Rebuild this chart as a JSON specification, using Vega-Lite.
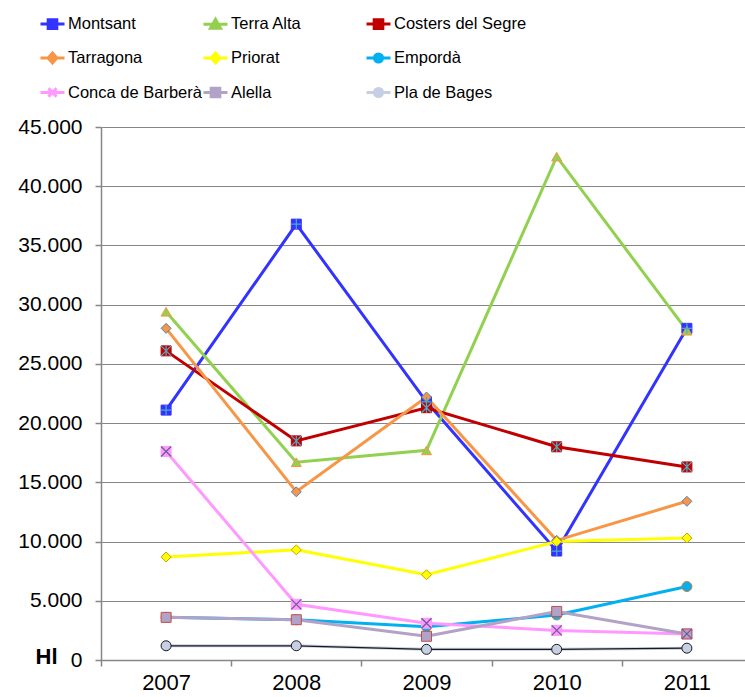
{
  "$schema": "https://vega.github.io/schema/vega-lite/v6.json",
  "width": 651,
  "height": 533,
  "autosize": {"type": "none"},
  "padding": {"left": 101, "top": 127, "right": 0, "bottom": 37},
  "background": "white",
  "config": {"view": {"stroke": null}, "font": "Liberation Sans"},
  "data": {"values": [
    {"s": "Montsant", "year": "2007", "v": 21100},
    {"s": "Montsant", "year": "2008", "v": 36800},
    {"s": "Montsant", "year": "2009", "v": 21800},
    {"s": "Montsant", "year": "2010", "v": 9200},
    {"s": "Montsant", "year": "2011", "v": 28000},
    {"s": "Terra Alta", "year": "2007", "v": 29400},
    {"s": "Terra Alta", "year": "2008", "v": 16700},
    {"s": "Terra Alta", "year": "2009", "v": 17700},
    {"s": "Terra Alta", "year": "2010", "v": 42500},
    {"s": "Terra Alta", "year": "2011", "v": 27800},
    {"s": "Costers del Segre", "year": "2007", "v": 26100},
    {"s": "Costers del Segre", "year": "2008", "v": 18500},
    {"s": "Costers del Segre", "year": "2009", "v": 21300},
    {"s": "Costers del Segre", "year": "2010", "v": 18000},
    {"s": "Costers del Segre", "year": "2011", "v": 16300},
    {"s": "Tarragona", "year": "2007", "v": 28000},
    {"s": "Tarragona", "year": "2008", "v": 14200},
    {"s": "Tarragona", "year": "2009", "v": 22200},
    {"s": "Tarragona", "year": "2010", "v": 10100},
    {"s": "Tarragona", "year": "2011", "v": 13400},
    {"s": "Priorat", "year": "2007", "v": 8700},
    {"s": "Priorat", "year": "2008", "v": 9300},
    {"s": "Priorat", "year": "2009", "v": 7200},
    {"s": "Priorat", "year": "2010", "v": 10000},
    {"s": "Priorat", "year": "2011", "v": 10300},
    {"s": "Empordà", "year": "2007", "v": 3600},
    {"s": "Empordà", "year": "2008", "v": 3400},
    {"s": "Empordà", "year": "2009", "v": 2800},
    {"s": "Empordà", "year": "2010", "v": 3800},
    {"s": "Empordà", "year": "2011", "v": 6200},
    {"s": "Conca de Barberà", "year": "2007", "v": 17600},
    {"s": "Conca de Barberà", "year": "2008", "v": 4700},
    {"s": "Conca de Barberà", "year": "2009", "v": 3100},
    {"s": "Conca de Barberà", "year": "2010", "v": 2500},
    {"s": "Conca de Barberà", "year": "2011", "v": 2200},
    {"s": "Alella", "year": "2007", "v": 3600},
    {"s": "Alella", "year": "2008", "v": 3400},
    {"s": "Alella", "year": "2009", "v": 2000},
    {"s": "Alella", "year": "2010", "v": 4100},
    {"s": "Alella", "year": "2011", "v": 2200},
    {"s": "Pla de Bages", "year": "2007", "v": 1200},
    {"s": "Pla de Bages", "year": "2008", "v": 1200},
    {"s": "Pla de Bages", "year": "2009", "v": 900},
    {"s": "Pla de Bages", "year": "2010", "v": 900},
    {"s": "Pla de Bages", "year": "2011", "v": 1000}
  ]},
  "encoding": {
    "x": {"field": "year", "type": "nominal",
      "scale": {"type": "band", "paddingInner": 0, "paddingOuter": 0},
      "axis": {"title": null, "labelAngle": 0, "tickBand": "extent", "tickSize": 6, "tickColor": "#868686", "tickWidth": 1.5,
        "domainColor": "#868686", "domainWidth": 1.5, "labelFontSize": 22, "labelPadding": 6, "labelColor": "black", "grid": false}},
    "y": {"field": "v", "type": "quantitative",
      "scale": {"domain": [0, 45000], "nice": false},
      "axis": {"values": [0, 5000, 10000, 15000, 20000, 25000, 30000, 35000, 40000, 45000],
        "labelExpr": "replace(format(datum.value, ','), ',', '.')",
        "labelFontSize": 21, "labelPadding": 13, "labelColor": "black", "tickSize": 6, "tickColor": "#868686", "tickWidth": 1.5,
        "grid": true, "gridColor": "#868686", "gridWidth": 1.2, "domainColor": "#868686", "domainWidth": 1.5,
        "title": "Hl", "titleFontSize": 22, "titleFontWeight": "bold", "titleColor": "black", "titleAngle": 0,
        "titleX": -44, "titleY": 536, "titleAlign": "right", "titleBaseline": "alphabetic"}}
  },
  "layer": [
    {
      "mark": {"type": "line", "strokeWidth": 3},
      "encoding": {
        "color": {"field": "s", "type": "nominal", "legend": null,
          "scale": {"domain": ["Montsant", "Terra Alta", "Costers del Segre", "Tarragona", "Priorat", "Empordà", "Conca de Barberà", "Alella", "Pla de Bages"],
            "range": ["#3333ff", "#92d050", "#c00000", "#f79646", "#ffff00", "#00b0f0", "#ff99ff", "#b3a2c7", "#c6cfe3"]}}
      }
    },
    {
      "transform": [{"filter": "datum.s === 'Pla de Bages'"}],
      "mark": {"type": "line", "strokeWidth": 1.3, "color": "#1a1a1a"},
      "encoding": {}
    },
    {
      "mark": {"type": "point", "filled": true, "size": 100, "strokeWidth": 1, "opacity": 1},
      "encoding": {
        "shape": {"field": "s", "type": "nominal", "legend": null,
          "scale": {"domain": ["Montsant", "Terra Alta", "Costers del Segre", "Tarragona", "Priorat", "Empordà", "Conca de Barberà", "Alella", "Pla de Bages"],
            "range": ["square", "triangle-up", "square", "diamond", "diamond", "circle", "square", "square", "circle"]}},
        "fill": {"field": "s", "type": "nominal", "legend": null,
          "scale": {"domain": ["Montsant", "Terra Alta", "Costers del Segre", "Tarragona", "Priorat", "Empordà", "Conca de Barberà", "Alella", "Pla de Bages"],
            "range": ["#3333ff", "#92d050", "#c00000", "#f79646", "#ffff00", "#00b0f0", "#ff99ff", "#b3a2c7", "#c6cfe3"]}},
        "stroke": {"field": "s", "type": "nominal", "legend": null,
          "scale": {"domain": ["Montsant", "Terra Alta", "Costers del Segre", "Tarragona", "Priorat", "Empordà", "Conca de Barberà", "Alella", "Pla de Bages"],
            "range": ["#3333ff", "#f79646", "#c00000", "#4f81bd", "#c8a000", "#d07a30", "#ff99ff", "#c0504d", "#1a1a1a"]}}
      }
    },
    {
      "transform": [{"filter": "datum.s === 'Montsant' || datum.s === 'Costers del Segre' || datum.s === 'Conca de Barberà'"}],
      "mark": {"type": "point", "filled": false, "size": 100, "strokeWidth": 1.2, "opacity": 1},
      "encoding": {
        "shape": {"field": "s", "type": "nominal", "legend": null,
          "scale": {"domain": ["Montsant", "Costers del Segre", "Conca de Barberà"],
            "range": ["M-1,0H1M0,-1V1", "M-1,-1L1,1M-1,1L1,-1M0,-1V1", "M-1,-1L1,1M-1,1L1,-1"]}},
        "stroke": {"field": "s", "type": "nominal", "legend": null,
          "scale": {"domain": ["Montsant", "Costers del Segre", "Conca de Barberà"],
            "range": ["#4bacc6", "#4bacc6", "#6b5b95"]}}
      }
    },
    {
      "transform": [{"filter": "false"}],
      "mark": {"type": "point", "filled": true, "size": 576, "strokeWidth": 3, "opacity": 1},
      "encoding": {
        "shape": {"field": "s", "type": "nominal",
          "scale": {"domain": ["Montsant", "Terra Alta", "Costers del Segre", "Tarragona", "Priorat", "Empordà", "Conca de Barberà", "Alella", "Pla de Bages"],
            "range": [
              "M-1,0H1M-0.36,-0.36H0.36V0.36H-0.36Z",
              "M-1,0H1M0,-0.42L0.42,0.32H-0.42Z",
              "M-1,0H1M-0.36,-0.36H0.36V0.36H-0.36Z",
              "M-1,0H1M0,-0.42L0.36,0L0,0.42L-0.36,0Z",
              "M-1,0H1M0,-0.42L0.36,0L0,0.42L-0.36,0Z",
              "M-1,0H1M0.34,0A0.34,0.34,0,1,1,-0.34,0A0.34,0.34,0,1,1,0.34,0Z",
              "M-1,0H1M-0.34,-0.34L0.34,0.34M-0.34,0.34L0.34,-0.34",
              "M-1,0H1M-0.36,-0.36H0.36V0.36H-0.36Z",
              "M-1,0H1M0.34,0A0.34,0.34,0,1,1,-0.34,0A0.34,0.34,0,1,1,0.34,0Z"
            ]},
          "legend": {"title": null, "orient": "none", "direction": "horizontal", "legendX": -62, "legendY": -117, "columns": 3, "gridAlign": "all", "columnPadding": -14, "rowPadding": 9.5,
            "symbolSize": 576, "symbolStrokeWidth": 3, "labelFont": "Liberation Sans", "labelFontSize": 16.5, "labelColor": "black", "labelOffset": 2, "padding": 0, "labelLimit": 300}},
        "fill": {"field": "s", "type": "nominal",
          "scale": {"domain": ["Montsant", "Terra Alta", "Costers del Segre", "Tarragona", "Priorat", "Empordà", "Conca de Barberà", "Alella", "Pla de Bages"],
            "range": ["#3333ff", "#92d050", "#c00000", "#f79646", "#ffff00", "#00b0f0", "#ff99ff", "#b3a2c7", "#c6cfe3"]},
          "legend": {"title": null, "orient": "none", "direction": "horizontal", "legendX": -62, "legendY": -117, "columns": 3, "gridAlign": "all", "columnPadding": -14, "rowPadding": 9.5,
            "symbolSize": 576, "symbolStrokeWidth": 3, "labelFont": "Liberation Sans", "labelFontSize": 16.5, "labelColor": "black", "labelOffset": 2, "padding": 0, "labelLimit": 300}},
        "stroke": {"field": "s", "type": "nominal",
          "scale": {"domain": ["Montsant", "Terra Alta", "Costers del Segre", "Tarragona", "Priorat", "Empordà", "Conca de Barberà", "Alella", "Pla de Bages"],
            "range": ["#3333ff", "#92d050", "#c00000", "#f79646", "#ffff00", "#00b0f0", "#ff99ff", "#b3a2c7", "#c6cfe3"]},
          "legend": {"title": null, "orient": "none", "direction": "horizontal", "legendX": -62, "legendY": -117, "columns": 3, "gridAlign": "all", "columnPadding": -14, "rowPadding": 9.5,
            "symbolSize": 576, "symbolStrokeWidth": 3, "labelFont": "Liberation Sans", "labelFontSize": 16.5, "labelColor": "black", "labelOffset": 2, "padding": 0, "labelLimit": 300}}
      }
    }
  ],
  "resolve": {"scale": {"color": "independent", "fill": "independent", "stroke": "independent", "shape": "independent"},
              "legend": {"color": "independent", "fill": "independent", "stroke": "independent", "shape": "independent"}}
}
